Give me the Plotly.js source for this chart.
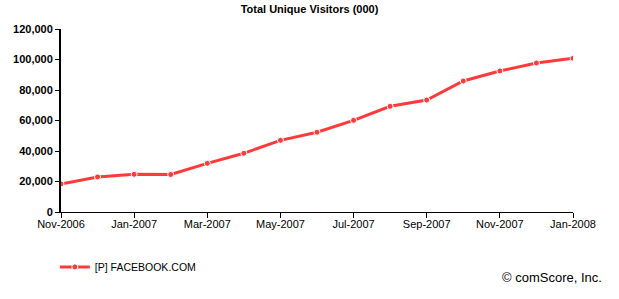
<!DOCTYPE html>
<html>
<head>
<meta charset="utf-8">
<script src="https://cdn.plot.ly/plotly-3.0.1.min.js"></script>
<style>html,body{margin:0;padding:0;background:#fff;}#chart{width:619px;height:299px;}</style>
</head>
<body>
<div id="chart"></div>
<script>
const months = ["Nov-2006","Dec-2006","Jan-2007","Feb-2007","Mar-2007","Apr-2007","May-2007","Jun-2007","Jul-2007","Aug-2007","Sep-2007","Oct-2007","Nov-2007","Dec-2007","Jan-2008"];
const visitors = [18400, 23000, 24700, 24600, 31900, 38500, 47000, 52300, 60100, 69300, 73400, 85900, 92500, 97700, 100800];
const xTickLabels = ["Nov-2006","Jan-2007","Mar-2007","May-2007","Jul-2007","Sep-2007","Nov-2007","Jan-2008"];
const yTickVals = [0, 20000, 40000, 60000, 80000, 100000, 120000];
const seriesName = "[P] FACEBOOK.COM";

const trace = {
  x: months, y: visitors, type: 'scatter', mode: 'lines+markers', name: seriesName,
  line: {color: '#ff3a3a', width: 3},
  marker: {color: '#ff3a3a', size: 6, line: {color: '#ffffff', width: 1}}
};
const layout = {
  width: 619, height: 299,
  margin: {l: 61, r: 46, t: 29, b: 87},
  paper_bgcolor: '#fff', plot_bgcolor: '#fff',
  font: {family: 'Liberation Sans, Arial, sans-serif', size: 11, color: '#000'},
  title: {text: '<b>Total Unique Visitors (000)</b>', font: {size: 11, color: '#000'}, x: 0.5, xanchor: 'center', y: 0.97, yanchor: 'middle', yref: 'container'},
  xaxis: {type: 'category', range: [0, months.length - 1], tickmode: 'array', tickvals: xTickLabels, ticktext: xTickLabels,
    showgrid: false, zeroline: false, showline: true, linecolor: '#000', linewidth: 1,
    ticks: 'outside', ticklen: 5, tickcolor: '#000', tickwidth: 1, tickfont: {size: 11}, ticklabelstandoff: -3},
  yaxis: {range: [0, 120000], tickvals: yTickVals, ticktext: yTickVals.map(v => '<b>' + v.toLocaleString('en-US') + '</b>'),
    showgrid: false, zeroline: false, showline: true, linecolor: '#000', linewidth: 2,
    ticks: 'outside', ticklen: 4, tickcolor: '#000', tickwidth: 1, tickfont: {size: 11}},
  showlegend: true,
  legend: {orientation: 'h', x: -0.012, xanchor: 'left', y: -0.30, yanchor: 'middle', font: {size: 10.5}, itemwidth: 30, bgcolor: 'rgba(0,0,0,0)'},
  annotations: [{text: '© comScore, Inc.', xref: 'paper', yref: 'paper', x: 1.06, xanchor: 'right', y: -0.36, yanchor: 'middle', showarrow: false, font: {size: 13, color: '#000'}}]
};
Plotly.newPlot('chart', [trace], layout, {displayModeBar: false, staticPlot: true});
</script>
</body>
</html>
